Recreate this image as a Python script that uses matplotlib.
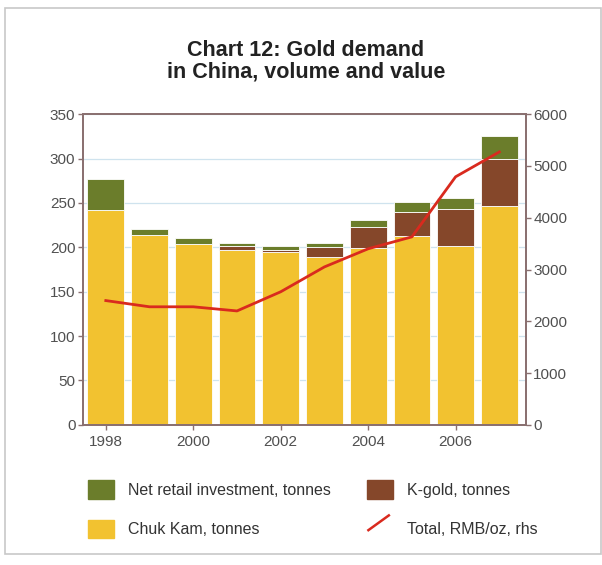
import matplotlib.pyplot as plt
import numpy as np
from matplotlib.patches import Patch, Rectangle
from matplotlib.lines import Line2D
from matplotlib.legend_handler import HandlerBase

plt.rcParams['font.family'] = ['Liberation Sans', 'DejaVu Sans']

years = [1998, 1999, 2000, 2001, 2002, 2003, 2004, 2005, 2006, 2007]
chuk_kam = [242, 214, 204, 197, 195, 189, 199, 213, 201, 246]
k_gold = [0, 0, 0, 4, 2, 11, 24, 27, 42, 54]
net_retail = [35, 7, 7, 4, 4, 5, 8, 11, 13, 25]
total_rmb = [2400, 2280, 2280, 2200, 2570, 3050, 3400, 3630, 4790, 5270]
year_labels = ['1998', '2000', '2002', '2004', '2006']

c_chuk = '#f2c230'
c_kgold = '#85472a'
c_retail = '#6b7d2b'
c_line = '#d92a1e'
c_spine = '#8a7070'
c_text = '#505050'


class DiagLine(HandlerBase):
    # legend key for the rhs line: short diagonal stroke
    def create_artists(self, legend, orig, xd, yd, w, h, fs, trans):
        ln = Line2D([xd + 0.05 * w, xd + 0.85 * w], [yd + 0.0 * h, yd + 0.8 * h],
                    color=c_line, lw=1.8, transform=trans)
        return [ln]


fig = plt.figure(figsize=(6.02, 5.65), dpi=100)
fig.patches.append(Rectangle((0.008, 0.02), 0.99, 0.965, transform=fig.transFigure,
                             fill=False, edgecolor='#c8c8c8', lw=1.2))

ax = fig.add_axes([0.138, 0.248, 0.735, 0.550])
x = np.arange(len(years))
w = 0.84
ch = np.array(chuk_kam)
kg = np.array(k_gold)
nr = np.array(net_retail)

ax.set_axisbelow(True)
ax.yaxis.grid(True, color='#cfe3ee', lw=0.9)
ax.bar(x, ch, w, color=c_chuk, edgecolor='white', lw=0.6, zorder=2)
ax.bar(x, kg, w, bottom=ch, color=c_kgold, edgecolor='white', lw=0.6, zorder=2)
ax.bar(x, nr, w, bottom=ch + kg, color=c_retail, edgecolor='white', lw=0.6, zorder=2)

ax.set_ylim(0, 350)
ax.set_yticks(np.arange(0, 351, 50))
ax.set_xlim(-0.52, 9.6)
ax.set_xticks(x[::2])
ax.set_xticklabels(year_labels)

ax2 = ax.twinx()
ax2.plot(x, total_rmb, color=c_line, lw=2, zorder=5)
ax2.set_ylim(0, 6000)
ax2.set_yticks(np.arange(0, 6001, 1000))

for a in (ax, ax2):
    for s in a.spines.values():
        s.set_color(c_spine)
        s.set_linewidth(1.3)
    a.tick_params(colors=c_spine, labelcolor=c_text, labelsize=11, length=3.5, width=1, pad=2)
ax.tick_params(axis='x', pad=4)

fig.text(0.508, 0.892, 'Chart 12: Gold demand\nin China, volume and value',
         ha='center', va='center', fontsize=15.5, fontweight='bold', color='#222222',
         linespacing=1.05)

handles = [Patch(color=c_retail), Patch(color=c_chuk), Patch(color=c_kgold),
           Line2D([], [], color=c_line)]
labels = ['Net retail investment, tonnes', 'Chuk Kam, tonnes',
          'K-gold, tonnes', 'Total, RMB/oz, rhs']
leg = fig.legend(handles, labels, ncol=2, loc='upper left', bbox_to_anchor=(0.133, 0.164),
                 frameon=False, fontsize=11.5, borderpad=0, handlelength=1.6, handleheight=1.4,
                 handletextpad=0.9, columnspacing=2.27, labelspacing=1.3,
                 handler_map={Line2D: DiagLine()})
for t in leg.get_texts():
    t.set_color('#333333')

fig.savefig('out.png', dpi=100)
